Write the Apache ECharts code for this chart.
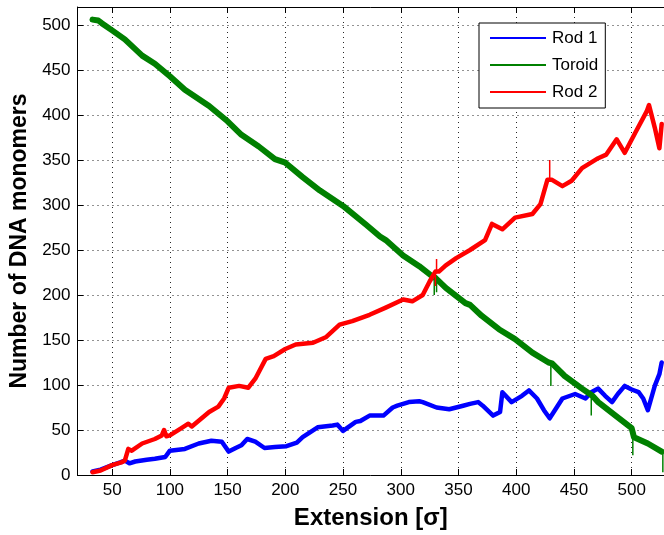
<!DOCTYPE html>
<html>
<head>
<meta charset="utf-8">
<script src="https://cdn.jsdelivr.net/npm/echarts@6/dist/echarts.min.js"></script>
<style>html,body{margin:0;padding:0;background:#fff;}#c{width:664px;height:535px;}</style>
</head>
<body>
<div id="c"></div>
<script>
// ---- data ----
const seriesNames = ['Rod 1', 'Toroid', 'Rod 2'];

const xRod1 = [33,40,50,57,61,65,70,80,87,96,100,113,125,136,145,151,157,162,167,174,182,191,201,210,215,228,241,245,250,261,265,273,285,293,297,307,316,319,331,342,354,360,367,371,380,386,388,396,405,411,418,424,429,435,440,451,460,465,471,477,483,488,494,500,506,510,514,518,520,524,526];
const yRod1 = [4,6,11,14,16,13,15,17,18,20,27,29,35,38,37,26,30,33,40,37,30,31,32,36,42,53,55,56,49,59,60,66,66,75,77,81,82,81,75,73,77,79,81,77,66,70,92,81,88,94,85,72,63,75,85,90,85,92,96,88,81,90,99,95,92,85,72,90,99,112,125];

const xToroid = [33,38,41,50,61,76,87,100,113,134,150,162,177,191,200,215,230,250,270,282,287,302,316,328,330,339,356,360,370,385,399,414,428,431,442,457,466,471,486,500,502,514,526];
const yToroid = [506,505,502,494,484,466,457,443,428,410,393,378,365,351,347,331,316,299,278,265,261,244,232,220,219,208,191,189,177,162,151,136,125,124,110,96,88,81,66,52,42,35,26];
// thin one-sample spikes of the Toroid trace: x, from, to
const spikeToroidX = [329,331,430,465,501,527];
const spikeToroidFrom = [220,219,125,88,50,26];
const spikeToroidTo = [200,203,99,66,22,3];

const xRod2 = [33,40,50,58,61,64,67,76,87,93,95,97,100,110,116,119,134,142,147,151,160,168,174,183,190,200,209,224,235,247,258,273,287,302,310,319,325,330,333,339,348,360,373,379,388,399,414,421,427,431,440,448,457,471,478,487,494,503,513,515,520,524,526];
const yRod2 = [3,5,11,14,16,29,27,35,40,44,50,43,44,52,57,54,70,76,85,97,99,97,107,129,132,140,145,147,153,167,171,178,186,195,193,200,215,226,226,233,241,250,261,279,273,286,290,301,328,328,321,327,341,352,356,373,358,380,404,411,386,363,390];
const spikeRod2X = [330,331,429];
const spikeRod2From = [222,226,328];
const spikeRod2To = [210,240,350];

const xMin = 20, xMax = 528;
const yMin = 0, yMax = 520;

// ---- chart ----
const colors = ['#0000ff', '#008000', '#ff0000'];
const widths = [4.5, 6, 4.5];
const xs = [xRod1, xToroid, xRod2];
const ys = [yRod1, yToroid, yRod2];
const FONT = '"Liberation Sans", Arial, Helvetica, sans-serif';

function spikeData(sx, sf, st) {
  const out = [];
  sx.forEach((x, k) => { out.push([x, sf[k]], [x, st[k]], '-'); });
  return out;
}

const chart = echarts.init(document.getElementById('c'), null, {renderer: 'canvas'});

const gridLine = {show: true, lineStyle: {color: '#000', width: 1, type: [1, 4], opacity: 0.85}};

const mainSeries = seriesNames.map((n, i) => ({
  name: n, type: 'line', xAxisIndex: 0, yAxisIndex: 0,
  data: xs[i].map((x, k) => [x, ys[i][k]]),
  showSymbol: false, symbol: 'none',
  lineStyle: {color: colors[i], width: widths[i], cap: 'round', join: 'round'},
  itemStyle: {color: colors[i]},
  z: 2 + 2 * i
}));
const spikeSeries = [
  {name: 'Toroid', data: spikeData(spikeToroidX, spikeToroidFrom, spikeToroidTo), color: colors[1], z: 3},
  {name: 'Rod 2', data: spikeData(spikeRod2X, spikeRod2From, spikeRod2To), color: colors[2], z: 7}
].map(s => ({
  name: s.name, type: 'line', data: s.data, connectNulls: false,
  showSymbol: false, symbol: 'none',
  lineStyle: {color: s.color, width: 1.5}, itemStyle: {color: s.color}, z: s.z
}));

const option = {
  animation: false,
  backgroundColor: '#fff',
  grid: {left: 77.5, right: 0, top: 7, bottom: 59.3, containLabel: false},
  legend: {
    orient: 'vertical',
    left: 479, top: 23,
    data: seriesNames.map((n, i) => ({name: n, icon: 'rect', itemStyle: {color: colors[i]}})),
    itemWidth: 56, itemHeight: 2, itemGap: 7,
    padding: [5, 7, 6, 11],
    backgroundColor: '#fff',
    borderColor: '#000', borderWidth: 1, borderRadius: 0,
    textStyle: {fontFamily: FONT, fontSize: 17, color: '#000', lineHeight: 20, padding: [0, 0, 0, 1]}
  },
  xAxis: [{
    type: 'value', min: xMin, max: xMax, splitNumber: 10,
    name: 'Extension [σ]', nameLocation: 'middle', nameGap: 31,
    nameTextStyle: {fontFamily: FONT, fontSize: 24, fontWeight: 'bold', color: '#000'},
    axisLine: {show: true, onZero: false, lineStyle: {color: '#000', width: 1}},
    axisTick: {show: true, inside: true, length: 6, lineStyle: {color: '#000'}},
    axisLabel: {fontFamily: FONT, fontSize: 17, color: '#000', margin: 7, showMinLabel: false, showMaxLabel: false},
    splitLine: gridLine
  }, {
    type: 'value', position: 'top', min: xMin, max: xMax, splitNumber: 10,
    axisLine: {show: true, onZero: false, lineStyle: {color: '#000', width: 1}},
    axisTick: {show: true, inside: true, length: 6, lineStyle: {color: '#000'}},
    axisLabel: {show: false}, splitLine: {show: false}
  }],
  yAxis: [{
    type: 'value', min: yMin, max: yMax, splitNumber: 10,
    name: 'Number of DNA monomers', nameLocation: 'middle', nameGap: 43,
    nameTextStyle: {fontFamily: FONT, fontSize: 23, fontWeight: 'bold', color: '#000'},
    axisLine: {show: true, onZero: false, lineStyle: {color: '#000', width: 1}},
    axisTick: {show: true, inside: true, length: 6, lineStyle: {color: '#000'}},
    axisLabel: {fontFamily: FONT, fontSize: 17, color: '#000', margin: 7, showMaxLabel: false},
    splitLine: gridLine
  }],
  series: mainSeries.concat(spikeSeries)
};
chart.setOption(option);
</script>
</body>
</html>
